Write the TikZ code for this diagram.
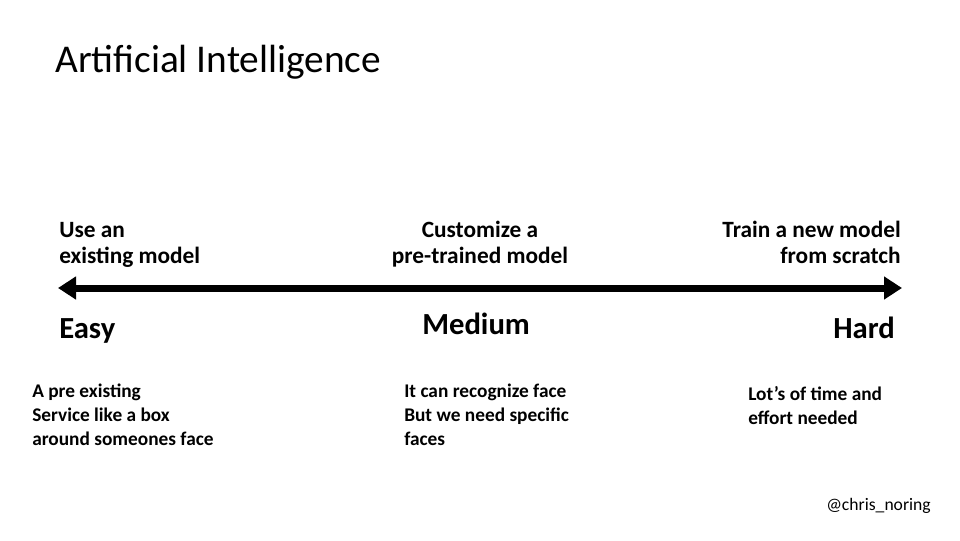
\documentclass[tikz,border=0pt]{standalone}
\usepackage{fontspec}
\setmainfont{Carlito}
\usetikzlibrary{arrows.meta, positioning}
\tikzset{> = { Triangle[length = 13.5pt, width = 16.5pt] }}

\begin{document}
\begin{tikzpicture}[x = 0.75pt, y = -0.75pt,
		goal/.style = { inner sep = 0, font = \bfseries\fontsize{17.5}{19}\selectfont },
		grade/.style = { inner sep = 0, font = \bfseries\fontsize{23}{27}\selectfont },
		note/.style = { inner sep = 0, align = left, font = \bfseries\fontsize{14.5}{18}\selectfont }]
		\useasboundingbox (0,0) rectangle (960,540);

		\node [anchor = base west, inner sep = 0, font = \fontsize{29.5}{34}\selectfont] (title) at (55,72) {Artificial Intelligence};

		% base anchor sits on the last line
		\node [goal, anchor = base west, align = left]    (g1) at (59,263)  {Use an\\existing model};
		\node [goal, anchor = base, align = center]       (g2) at (480,263) {Customize a\\pre-trained model};
		\node [goal, anchor = base east, align = right]   (g3) at (901,263) {Train a new model\\from scratch};

		\coordinate (lft) at (58,288);
		\coordinate (rgt) at (902,288);
		\draw [<->, line width = 5.25pt] (lft) -- (rgt);

		\node [grade, anchor = base west] (easy) at (59,338)  {Easy};
		\node [grade, anchor = base west] (med)  at (422,334) {Medium};
		\node [grade, anchor = base east] (hard) at (895,338) {Hard};

		\node [note, anchor = base west] (n1) at (32,445)  {A pre existing\\Service like a box\\around someones face};
		\node [note, anchor = base west] (n2) at (404,445) {It can recognize face\\But we need specific\\faces};
		\node [note, anchor = base west] (n3) at (748,424) {Lot's of time and\\effort needed};

		\node [anchor = base east, inner sep = 0, font = \fontsize{13.2}{16}\selectfont] (tag) at (931,510) {@chris\_noring};
	\end{tikzpicture}
\end{document}
